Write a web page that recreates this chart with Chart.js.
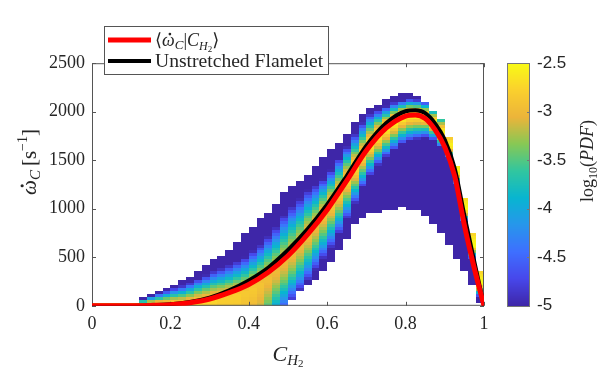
<!DOCTYPE html>
<html>
<head>
<meta charset="utf-8">
<script src="https://cdn.jsdelivr.net/npm/chart.js@4.4.1/dist/chart.umd.min.js"></script>
<style>
  html, body { margin: 0; padding: 0; background: #fff; }
</style>
</head>
<body>
<canvas id="chart" width="614" height="369"></canvas>
<script>
// conditional mean and flamelet curves
const lineX = [0, 0.05, 0.1, 0.15, 0.2, 0.25, 0.3, 0.35, 0.4, 0.45, 0.5, 0.55, 0.6, 0.65, 0.7, 0.75, 0.8, 0.825, 0.85, 0.875, 0.9, 0.925, 0.95, 0.975, 1];
const meanRate = [0, 0, 1, 4, 12, 32, 70, 135, 220, 345, 515, 735, 990, 1290, 1600, 1830, 1955, 1967, 1930, 1815, 1635, 1340, 830, 390, 0];
const flameletRate = [0, 0, 1, 5, 16, 40, 85, 160, 262, 395, 575, 790, 1045, 1340, 1650, 1880, 2005, 2015, 1985, 1880, 1710, 1420, 930, 460, 0];

// joint PDF, one entry per C_H2 bin (centre of bin)
const binX = [0.01, 0.03, 0.05, 0.07, 0.09, 0.11, 0.13, 0.15, 0.17, 0.19, 0.21, 0.23, 0.25, 0.27, 0.29, 0.31, 0.33, 0.35, 0.37, 0.39, 0.41, 0.43, 0.45, 0.47, 0.49, 0.51, 0.53, 0.55, 0.57, 0.59, 0.61, 0.63, 0.65, 0.67, 0.69, 0.71, 0.73, 0.75, 0.77, 0.79, 0.81, 0.83, 0.85, 0.87, 0.89, 0.91, 0.93, 0.95, 0.97, 0.99];
// lowest / highest sampled reaction rate in the bin
const binLo = [0, 0, 0, 0, 0, 0, 0, 0, 0, 0, 0, 0, 0, 0, 0, 0, 0, 0, 0, 0, 0, 0, 0, 0, 0, 60, 160, 220, 290, 380, 460, 570, 700, 840, 920, 960, 985, 1000, 1010, 1020, 1015, 990, 950, 850, 760, 640, 500, 360, 220, 40];
const binHi = [30, 30, 30, 30, 30, 30, 80, 110, 140, 170, 210, 260, 300, 350, 400, 460, 510, 570, 640, 730, 800, 890, 960, 1030, 1150, 1230, 1270, 1340, 1420, 1530, 1600, 1660, 1760, 1880, 1970, 2030, 2070, 2110, 2160, 2170, 2170, 2150, 2080, 2000, 1900, 1740, 1430, 1100, 730, 360];
// most probable rate, its log10(PDF), and how far up / down it falls by one decade
const ridgeY = [0, 0, 0, 0, 0, 0, 0, 0, 0, 0, 0, 0, 10, 20, 35, 50, 65, 80, 100, 130, 170, 220, 280, 350, 440, 520, 610, 720, 820, 930, 1040, 1160, 1290, 1420, 1550, 1660, 1750, 1830, 1900, 1950, 1975, 1975, 1955, 1890, 1790, 1650, 1380, 1000, 620, 230];
const peakLog = [-2.5, -2.5, -2.5, -2.5, -2.5, -2.5, -2.5, -2.5, -2.55, -2.6, -2.6, -2.65, -2.7, -2.7, -2.75, -2.75, -2.8, -2.8, -2.8, -2.85, -2.85, -2.9, -2.95, -3.0, -3.0, -3.0, -3.0, -2.95, -2.95, -2.9, -2.85, -2.8, -2.75, -2.7, -2.7, -2.65, -2.6, -2.55, -2.5, -2.5, -2.5, -2.5, -2.5, -2.5, -2.55, -2.55, -2.5, -2.5, -2.5, -2.5];
const spreadUp = [100, 100, 100, 100, 100, 100, 40, 55, 70, 85, 100, 115, 130, 150, 165, 180, 190, 200, 210, 220, 235, 250, 270, 290, 310, 320, 310, 290, 260, 230, 215, 210, 205, 200, 190, 180, 150, 125, 105, 90, 85, 80, 80, 90, 110, 180, 250, 300, 300, 300];
const spreadDown = [500, 500, 500, 500, 500, 500, 500, 500, 500, 500, 500, 500, 500, 500, 500, 500, 550, 600, 650, 700, 600, 550, 420, 350, 330, 300, 290, 285, 280, 275, 265, 250, 230, 210, 190, 180, 170, 165, 160, 155, 150, 140, 120, 100, 85, 75, 70, 75, 75, 75];

const xTicks = [0, 0.2, 0.4, 0.6, 0.8, 1];
const yTicks = [0, 500, 1000, 1500, 2000, 2500];
const cbTicks = [-5, -4.5, -4, -3.5, -3, -2.5];

const BIN_HALF = 0.01;
const CELL_H = 30;
const SERIF = '"Liberation Serif", "DejaVu Serif", serif';
const SANS = '"Liberation Sans", Arial, sans-serif';
const TEXT = '#262626';

// parula
const PARULA = [[62, 38, 168], [71, 71, 235], [62, 111, 255], [39, 150, 235], [8, 181, 208], [49, 198, 159], [135, 200, 85], [236, 180, 58], [250, 208, 45], [249, 251, 21]];
function parula(v) {
    let t = (v - cbTicks[0]) / (cbTicks[cbTicks.length - 1] - cbTicks[0]);
    t = Math.max(0, Math.min(1, t));
    const s = t * (PARULA.length - 1);
    const k = Math.min(PARULA.length - 2, Math.floor(s));
    const f = s - k;
    const a = PARULA[k], b = PARULA[k + 1];
    const c = a.map((ai, j) => Math.round(ai + (b[j] - ai) * f));
    return `rgb(${c[0]},${c[1]},${c[2]})`;
}

function cellLog(i, y) {
    const dy = y - ridgeY[i];
    const w = dy > 0 ? spreadUp[i] : spreadDown[i];
    return peakLog[i] - Math.pow(Math.abs(dy) / w, 1.5);
}

// draws a run of text pieces (for sub/superscripts); dot = font size of an accented glyph
function drawPieces(ctx, pieces, x, y, center) {
    let total = 0;
    pieces.forEach(p => {
        ctx.font = p.f;
        p.w = ctx.measureText(p.t).width;
        total += p.w + (p.gap || 0);
    });
    let cx = center ? x - total / 2 : x;
    pieces.forEach(p => {
        ctx.font = p.f;
        ctx.fillText(p.t, cx, y + (p.dy || 0));
        if (p.dot) {
            ctx.beginPath();
            ctx.arc(cx + p.w * 0.62, y + (p.dy || 0) - p.dot * 0.66, p.dot * 0.075, 0, Math.PI * 2);
            ctx.fill();
        }
        cx += p.w + (p.gap || 0);
    });
}

const heatmapPlugin = {
    id: 'heatmap',
    beforeDatasetsDraw(chart) {
        const { ctx, chartArea: ca } = chart;
        const xs = chart.scales.x, ys = chart.scales.y;
        ctx.save();
        ctx.beginPath();
        ctx.rect(ca.left, ca.top, ca.width, ca.height);
        ctx.clip();
        binX.forEach((bx, i) => {
            const left = Math.round(xs.getPixelForValue(bx - BIN_HALF));
            const right = Math.round(xs.getPixelForValue(bx + BIN_HALF));
            for (let y = Math.floor(binLo[i] / CELL_H) * CELL_H; y < binHi[i]; y += CELL_H) {
                const top = Math.round(ys.getPixelForValue(y + CELL_H));
                const bottom = Math.round(ys.getPixelForValue(y));
                ctx.fillStyle = parula(cellLog(i, y + CELL_H / 2));
                ctx.fillRect(left, top, right - left, bottom - top);
            }
        });
        ctx.restore();

        // axes box with inward ticks
        ctx.save();
        ctx.strokeStyle = '#555';
        ctx.lineWidth = 1;
        ctx.strokeRect(ca.left + 0.5, ca.top + 0.5, ca.width - 1, ca.height - 1);
        ctx.beginPath();
        xTicks.forEach(v => {
            const px = Math.round(xs.getPixelForValue(v)) + 0.5;
            ctx.moveTo(px, ca.bottom); ctx.lineTo(px, ca.bottom - 4);
            ctx.moveTo(px, ca.top); ctx.lineTo(px, ca.top + 4);
        });
        yTicks.forEach(v => {
            const py = Math.round(ys.getPixelForValue(v)) + 0.5;
            ctx.moveTo(ca.left, py); ctx.lineTo(ca.left + 4, py);
            ctx.moveTo(ca.right, py); ctx.lineTo(ca.right - 4, py);
        });
        ctx.stroke();
        ctx.restore();
    },
    afterDraw(chart) {
        const { ctx, chartArea: ca } = chart;
        const cb = chart.scales.cb;
        ctx.save();

        // colorbar
        const barL = ca.right + 23, barW = 23;
        const barT = Math.round(cb.getPixelForValue(cbTicks[cbTicks.length - 1]));
        const barB = Math.round(cb.getPixelForValue(cbTicks[0]));
        for (let py = barT; py < barB; py++) {
            ctx.fillStyle = parula(cb.getValueForPixel(py + 0.5));
            ctx.fillRect(barL, py, barW, 1);
        }
        ctx.strokeStyle = '#777';
        ctx.lineWidth = 1;
        ctx.strokeRect(barL + 0.5, barT + 0.5, barW - 1, barB - barT);
        ctx.beginPath();
        cbTicks.forEach(v => {
            const py = Math.round(cb.getPixelForValue(v)) + 0.5;
            ctx.moveTo(barL + barW, py); ctx.lineTo(barL + barW - 3, py);
        });
        ctx.stroke();

        ctx.fillStyle = TEXT;
        ctx.textBaseline = 'alphabetic';
        ctx.textAlign = 'left';

        // colorbar label
        ctx.save();
        ctx.translate(593, 161);
        ctx.rotate(-Math.PI / 2);
        drawPieces(ctx, [
            { t: 'log', f: `18px ${SERIF}` },
            { t: '10', f: `12px ${SERIF}`, dy: 4 },
            { t: '(', f: `18px ${SERIF}` },
            { t: 'PDF', f: `italic 18px ${SERIF}` },
            { t: ')', f: `18px ${SERIF}` }
        ], 0, 0, true);
        ctx.restore();

        // y axis title
        ctx.save();
        ctx.translate(36, 162);
        ctx.rotate(-Math.PI / 2);
        drawPieces(ctx, [
            { t: 'ω', f: `italic 21px ${SERIF}`, dot: 21 },
            { t: 'C', f: `italic 15px ${SERIF}`, dy: 4, gap: 4 },
            { t: '[s', f: `21px ${SERIF}` },
            { t: '\u22121', f: `14px ${SERIF}`, dy: -9 },
            { t: ']', f: `21px ${SERIF}` }
        ], 0, 0, true);
        ctx.restore();

        // x axis title
        drawPieces(ctx, [
            { t: 'C', f: `italic 22px ${SERIF}` },
            { t: 'H', f: `italic 15px ${SERIF}`, dy: 4 },
            { t: '2', f: `11px ${SERIF}`, dy: 6 }
        ], 288, 361, true);

        // legend
        const lx = 104, ly = 26, lw = 224, lh = 48;
        ctx.fillStyle = '#fff';
        ctx.fillRect(lx, ly, lw, lh);
        ctx.strokeStyle = '#555';
        ctx.strokeRect(lx + 0.5, ly + 0.5, lw, lh);
        const legendLines = [
            { color: '#ff0000', width: 5, y: 40 },
            { color: '#000000', width: 4, y: 61 }
        ];
        legendLines.forEach(l => {
            ctx.strokeStyle = l.color;
            ctx.lineWidth = l.width;
            ctx.beginPath();
            ctx.moveTo(108, l.y);
            ctx.lineTo(151, l.y);
            ctx.stroke();
        });
        ctx.fillStyle = TEXT;
        drawPieces(ctx, [
            { t: '⟨', f: `18px ${SERIF}` },
            { t: 'ω', f: `italic 18px ${SERIF}`, dot: 18 },
            { t: 'C', f: `italic 13px ${SERIF}`, dy: 3 },
            { t: '|', f: `18px ${SERIF}` },
            { t: 'C', f: `italic 18px ${SERIF}` },
            { t: 'H', f: `italic 12px ${SERIF}`, dy: 4 },
            { t: '2', f: `9px ${SERIF}`, dy: 6 },
            { t: '⟩', f: `18px ${SERIF}` }
        ], 155, 46, false);
        ctx.font = `18px ${SERIF}`;
        const wanted = 168;
        const size = 18 * wanted / ctx.measureText('Unstretched Flamelet').width;
        ctx.font = `${size.toFixed(1)}px ${SERIF}`;
        ctx.fillText('Unstretched Flamelet', 155, 67);

        ctx.restore();
    }
};

const meanData = lineX.map((x, i) => ({ x: x, y: meanRate[i] }));
const flameletData = lineX.map((x, i) => ({ x: x, y: flameletRate[i] }));

new Chart(document.getElementById('chart'), {
    type: 'line',
    data: {
        datasets: [
            {
                label: '⟨ω̇C|CH2⟩',
                data: meanData,
                borderColor: '#ff0000',
                borderWidth: 5,
                pointRadius: 0,
                cubicInterpolationMode: 'monotone',
                order: 0
            },
            {
                label: 'Unstretched Flamelet',
                data: flameletData,
                borderColor: '#000000',
                borderWidth: 4,
                pointRadius: 0,
                cubicInterpolationMode: 'monotone',
                order: 1
            }
        ]
    },
    options: {
        responsive: false,
        animation: false,
        devicePixelRatio: 1,
        layout: { padding: { top: 15, left: 0, right: 0, bottom: 0 } },
        plugins: { legend: { display: false }, tooltip: { enabled: false } },
        scales: {
            x: {
                type: 'linear',
                min: 0,
                max: 1,
                grid: { display: false, drawTicks: false },
                border: { display: false },
                ticks: {
                    stepSize: 0.2,
                    padding: 8,
                    color: TEXT,
                    font: { family: SERIF, size: 18 },
                    maxRotation: 0,
                    callback: v => String(Number(v.toFixed(1)))
                },
                afterFit: s => { s.height = 63; }
            },
            y: {
                type: 'linear',
                min: 0,
                max: 2500,
                grid: { display: false, drawTicks: false },
                border: { display: false },
                ticks: {
                    stepSize: 500,
                    padding: 7,
                    color: TEXT,
                    font: { family: SERIF, size: 18 },
                    callback: v => String(v)
                },
                afterFit: s => { s.width = 92; }
            },
            cb: {
                type: 'linear',
                position: 'right',
                min: cbTicks[0],
                max: cbTicks[cbTicks.length - 1],
                grid: { display: false, drawTicks: false },
                border: { display: false },
                ticks: {
                    stepSize: 0.5,
                    padding: 53,
                    color: TEXT,
                    font: { family: SANS, size: 17 },
                    callback: v => String(v)
                },
                afterFit: s => { s.width = 130; }
            }
        }
    },
    plugins: [heatmapPlugin]
});
</script>
</body>
</html>
